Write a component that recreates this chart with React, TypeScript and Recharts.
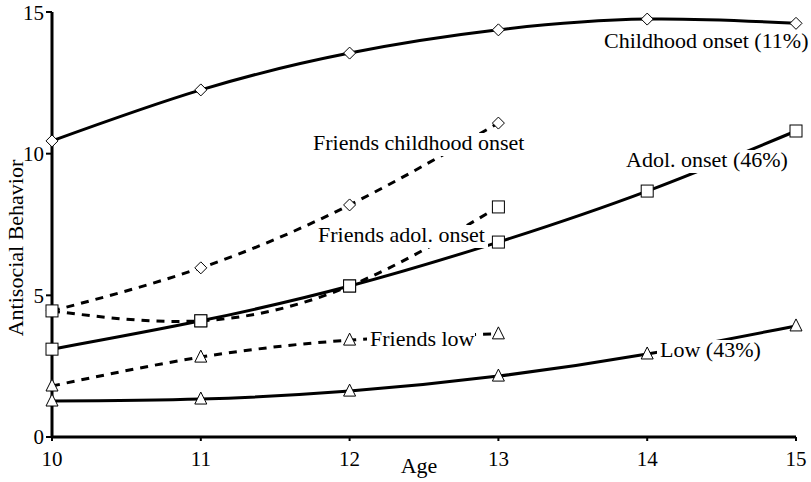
import { LineChart, Line, XAxis, YAxis } from 'recharts';

const ages = [10, 11, 12, 13, 14, 15];
const childhoodOnset = [10.45, 12.25, 13.55, 14.37, 14.75, 14.6];
const adolOnset = [3.1, 4.1, 5.33, 6.88, 8.68, 10.8];
const low = [1.27, 1.34, 1.62, 2.15, 2.93, 3.92];
const friendsChildhood = [4.45, 5.97, 8.19, 11.08, null, null];
const friendsAdol = [4.45, 4.1, 5.33, 8.12, null, null];
const friendsLow = [1.8, 2.82, 3.42, 3.64, null, null];
const xTicks = [10, 11, 12, 13, 14, 15];
const yTicks = [0, 5, 10, 15];

const data = ages.map((age, i) => ({
  age,
  childhoodOnset: childhoodOnset[i],
  adolOnset: adolOnset[i],
  low: low[i],
  friendsChildhood: friendsChildhood[i],
  friendsAdol: friendsAdol[i],
  friendsLow: friendsLow[i],
}));

const FONT = 'Liberation Serif, DejaVu Serif, serif';

const makeDot = (shape: 'diamond' | 'square' | 'triangle') => (props: any) => {
  const { cx, cy, index } = props;
  if (cx == null || cy == null || props.value == null) return <g key={index} />;
  if (shape === 'diamond') {
    return (
      <polygon
        key={index}
        points={`${cx},${cy - 6} ${cx + 6},${cy} ${cx},${cy + 6} ${cx - 6},${cy}`}
        fill="#fff"
        stroke="#000"
        strokeWidth={1}
      />
    );
  }
  if (shape === 'square') {
    return <rect key={index} x={cx - 6} y={cy - 6} width={12} height={12} fill="#fff" stroke="#000" strokeWidth={1} />;
  }
  return (
    <polygon
      key={index}
      points={`${cx},${cy - 7} ${cx + 6},${cy + 5} ${cx - 6},${cy + 5}`}
      fill="#fff"
      stroke="#000"
      strokeWidth={1}
    />
  );
};

// text labels sit on a white box that hides the lines behind them
const annotations = [
  { text: 'Childhood onset (11%)', x: 604, y: 48, w: 202 },
  { text: 'Friends childhood onset', x: 313, y: 150, w: 217 },
  { text: 'Adol. onset (46%)', x: 626, y: 167, w: 159 },
  { text: 'Friends adol. onset', x: 318, y: 242, w: 167 },
  { text: 'Friends low', x: 370, y: 346, w: 102 },
  { text: 'Low (43%)', x: 660, y: 357, w: 98 },
];

const App = () => {
  return (
    <div style={{ position: 'absolute', left: 0, top: 0, width: 811, height: 482, background: '#fff', fontFamily: FONT }}>
      <LineChart width={811} height={482} data={data} margin={{ top: 12, right: 15, bottom: 15, left: 0 }}>
        <XAxis
          dataKey="age"
          type="number"
          domain={[10, 15]}
          ticks={xTicks}
          height={30}
          tickSize={4}
          tickMargin={10}
          axisLine={{ stroke: '#000', strokeWidth: 3 }}
          tickLine={{ stroke: '#000', strokeWidth: 2 }}
          tick={{ fill: '#000', fontSize: 21, fontFamily: FONT }}
        />
        <YAxis
          type="number"
          domain={[0, 15]}
          ticks={yTicks}
          width={52}
          tickSize={6}
          tickMargin={2}
          axisLine={{ stroke: '#000', strokeWidth: 3 }}
          tickLine={{ stroke: '#000', strokeWidth: 2 }}
          tick={{ fill: '#000', fontSize: 21, fontFamily: FONT }}
        />
        <Line type="natural" dataKey="low" stroke="#000" strokeWidth={3} dot={makeDot('triangle')} isAnimationActive={false} />
        <Line type="natural" dataKey="adolOnset" stroke="#000" strokeWidth={3} dot={makeDot('square')} isAnimationActive={false} />
        <Line type="natural" dataKey="childhoodOnset" stroke="#000" strokeWidth={3} dot={makeDot('diamond')} isAnimationActive={false} />
        <Line type="natural" dataKey="friendsLow" stroke="#000" strokeWidth={3} strokeDasharray="8 7" dot={makeDot('triangle')} isAnimationActive={false} />
        <Line type="natural" dataKey="friendsChildhood" stroke="#000" strokeWidth={3} strokeDasharray="8 7" dot={makeDot('diamond')} isAnimationActive={false} />
        <Line type="natural" dataKey="friendsAdol" stroke="#000" strokeWidth={3} strokeDasharray="8 7" dot={makeDot('square')} isAnimationActive={false} />
      </LineChart>
      <svg width={811} height={482} style={{ position: 'absolute', left: 0, top: 0, pointerEvents: 'none' }}>
        {annotations.map((a) => (
          <g key={a.text}>
            <rect x={a.x - 3} y={a.y - 17} width={a.w + 6} height={23} fill="#fff" />
            <text x={a.x} y={a.y} fontSize={22} fontFamily={FONT} fill="#000">
              {a.text}
            </text>
          </g>
        ))}
        <text x={419} y={473} fontSize={22} fontFamily={FONT} fill="#000" textAnchor="middle">
          Age
        </text>
        <text
          x={0}
          y={0}
          fontSize={22}
          fontFamily={FONT}
          fill="#000"
          textAnchor="middle"
          transform="translate(23 248) rotate(-90)"
        >
          Antisocial Behavior
        </text>
      </svg>
    </div>
  );
};

export default App;
